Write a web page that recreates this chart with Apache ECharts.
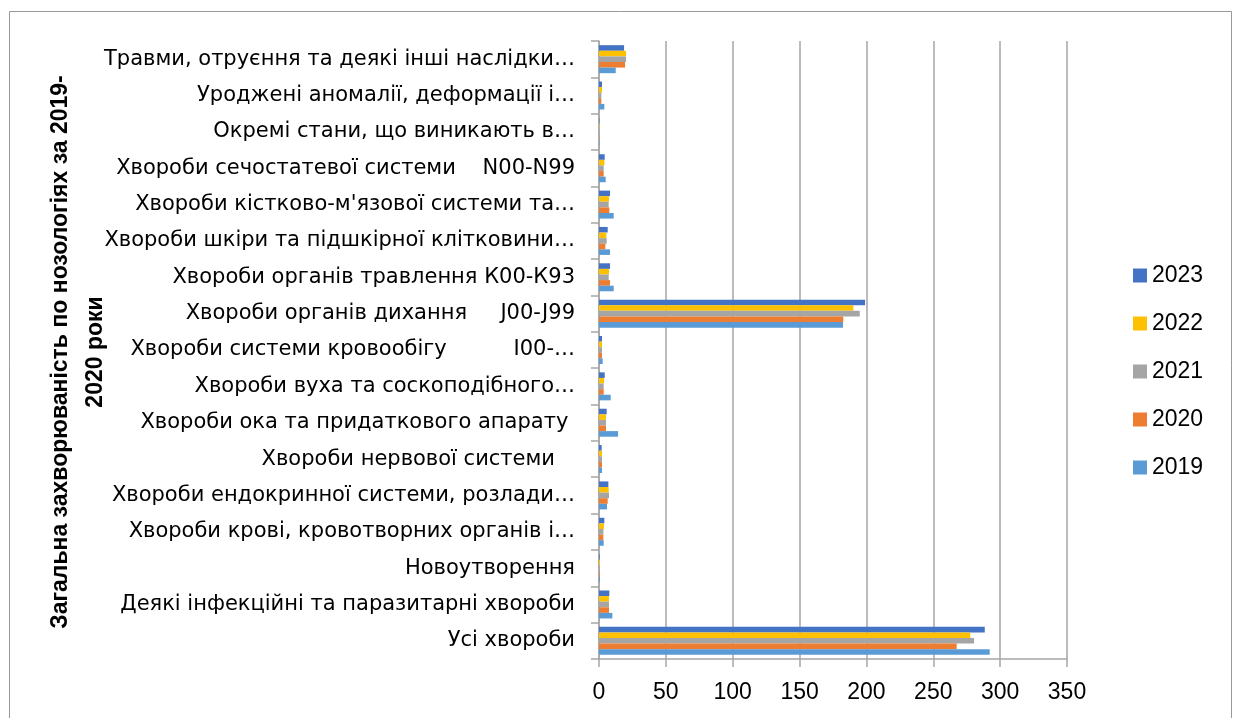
<!DOCTYPE html>
<html><head><meta charset="utf-8">
<script src="https://cdn.jsdelivr.net/npm/echarts@6/dist/echarts.min.js"></script>
<style>html,body{margin:0;padding:0;background:#fff}#c{width:1233px;height:718px}</style>
</head><body><div id="c"></div>
<script>
// categories bottom-to-top
const categories = [
  "Усі хвороби",
  "Деякі інфекційні та паразитарні хвороби",
  "Новоутворення",
  "Хвороби крові, кровотворних органів і…",
  "Хвороби ендокринної системи, розлади…",
  "Хвороби нервової системи   ",
  "Хвороби ока та придаткового апарату ",
  "Хвороби вуха та соскоподібного…",
  "Хвороби системи кровообігу          І00-…",
  "Хвороби органів дихання     J00-J99",
  "Хвороби органів травлення К00-К93",
  "Хвороби шкіри та підшкірної клітковини…",
  "Хвороби кістково-м'язової системи та…",
  "Хвороби сечостатевої системи    N00-N99",
  "Окремі стани, що виникають в…",
  "Уроджені аномалії, деформації і…",
  "Травми, отруєння та деякі інші наслідки…"
];
const years = ["2023", "2022", "2021", "2020", "2019"];
const v2023 = [288.5, 7.75, 0.5, 4, 7, 2, 5.75, 4.25, 2.25, 199, 8.25, 6.5, 8.25, 4.25, 0.3, 2.25, 18.75];
const v2022 = [277.7, 7.5, 0.75, 3.75, 7.25, 2.25, 5.25, 3.75, 2.25, 190.2, 7.5, 5.5, 7.5, 4, 0.3, 2.25, 20.25];
const v2021 = [280.5, 7.5, 0.5, 3.25, 7.5, 2.25, 5.25, 3.5, 2.25, 195, 7.25, 5.75, 7.25, 3.5, 0.2, 1.75, 20.25];
const v2020 = [267.5, 7.5, 0.5, 3.25, 6.5, 2.25, 5.25, 3.5, 2.25, 182.7, 8.25, 4.75, 7.75, 3.5, 0.2, 1.75, 19.5];
const v2019 = [292.2, 10, 0.75, 3.5, 6, 2.25, 14.25, 8.75, 2.75, 182.5, 11, 8.25, 11, 5, 0.3, 4, 12.5];
const xTicks = [0, 50, 100, 150, 200, 250, 300, 350];
const axisTitle = "Загальна захворюваність по нозологіях за 2019-\n2020 роки";

const values = [v2023, v2022, v2021, v2020, v2019];
const colors = ["#4472C4", "#FFC000", "#A5A5A5", "#ED7D31", "#5B9BD5"];
const FONT = "Liberation Sans";
const CATFONT = "DejaVu Sans";

const chart = echarts.init(document.getElementById('c'), null, {renderer: 'canvas'});
chart.setOption({
  animation: false,
  textStyle: {fontFamily: FONT},
  graphic: [
    {type: 'rect', shape: {x: 9.5, y: 11.5, width: 1222, height: 730},
     style: {fill: 'none', stroke: '#999', lineWidth: 1}, silent: true},
    {type: 'text', x: 78, y: 352, rotation: Math.PI / 2,
     style: {text: axisTitle, fill: '#000', font: 'bold 23px "' + FONT + '"',
             align: 'center', verticalAlign: 'middle', lineHeight: 35}}
  ],
  legend: {
    orient: 'vertical', left: 1128, top: 259,
    data: years,
    icon: 'rect', itemWidth: 14, itemHeight: 14, itemGap: 25,
    textStyle: {fontSize: 23, color: '#000', fontFamily: FONT}
  },
  grid: {left: 599, right: 166, top: 41, bottom: 59, containLabel: false},
  xAxis: {
    type: 'value', min: xTicks[0], max: xTicks[xTicks.length - 1], interval: 50,
    axisLine: {show: true, lineStyle: {color: '#A6A6A6', width: 1.5}},
    axisTick: {show: true, length: 8, lineStyle: {color: '#A6A6A6', width: 1.5}},
    splitLine: {show: true, lineStyle: {color: '#A6A6A6', width: 1.5}},
    axisLabel: {fontSize: 23, color: '#000', margin: 22, fontFamily: FONT}
  },
  yAxis: {
    type: 'category', data: categories,
    axisLine: {show: true, lineStyle: {color: '#A6A6A6', width: 1.5}},
    axisTick: {show: true, length: 8, lineStyle: {color: '#A6A6A6', width: 1.5}},
    axisLabel: {fontSize: 21, color: '#000', margin: 24, fontFamily: CATFONT, interval: 0}
  },
  series: years.map((y, i) => ({
    name: y, type: 'bar', data: values[i],
    itemStyle: {color: colors[i]},
    barGap: '0%', barCategoryGap: '23%'
  }))
});
</script></body></html>
